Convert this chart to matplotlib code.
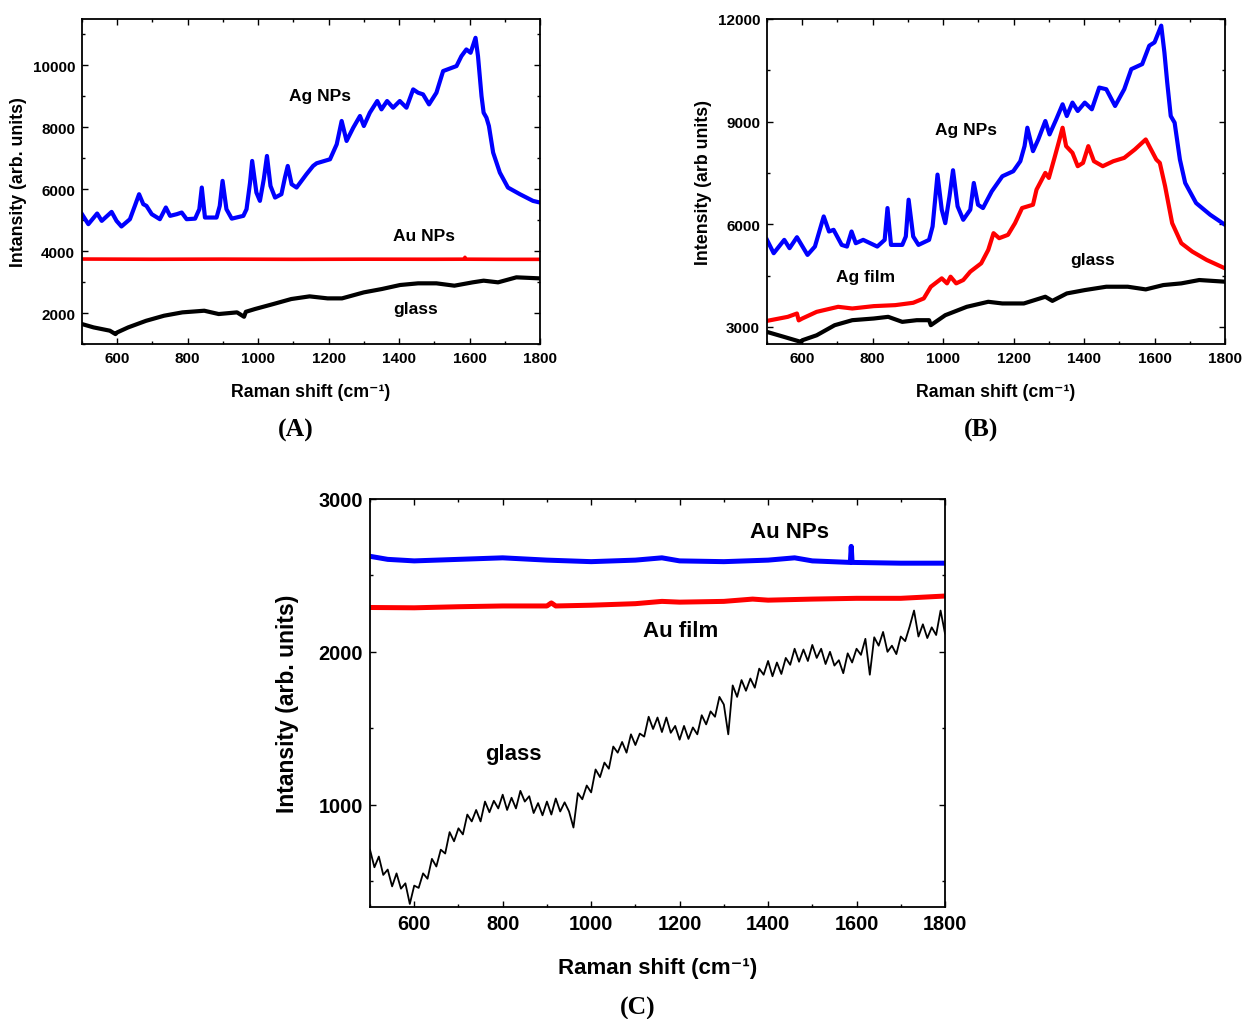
import numpy as np
import matplotlib
matplotlib.use("Agg")
import matplotlib.pyplot as plt
from matplotlib.ticker import MultipleLocator

plt.rcParams['font.family'] = ['Liberation Sans', 'DejaVu Sans']
plt.rcParams['font.weight'] = 'bold'
plt.rcParams['axes.labelweight'] = 'bold'

# ---- panel A : Ag NPs, Au NPs, glass ----
a_agnp_x = [500, 518, 543, 556, 584, 598, 612, 636, 650, 662, 674, 683, 698, 721, 738, 750,
            769, 783, 797, 821, 833, 840, 849, 882, 891, 899, 910, 925, 958, 967, 977, 983,
            995, 1005, 1016, 1025, 1035, 1048, 1066, 1076, 1084, 1095, 1109, 1137, 1156, 1166,
            1204, 1223, 1237, 1251, 1270, 1289, 1300, 1317, 1338, 1350, 1366, 1383, 1402, 1421,
            1440, 1454, 1468, 1485, 1506, 1525, 1563, 1577, 1591, 1603, 1617, 1624, 1634, 1640,
            1648, 1655, 1667, 1686, 1709, 1743, 1780, 1800]
a_agnp_y = [5194, 4871, 5216, 4978, 5268, 4978, 4797, 5032, 5462, 5839, 5516, 5462, 5194, 5032,
            5410, 5140, 5194, 5248, 5032, 5050, 5355, 6055, 5086, 5086, 5462, 6270, 5355, 5050,
            5140, 5355, 6216, 6914, 5893, 5624, 6324, 7075, 6108, 5731, 5839, 6377, 6753, 6162,
            6055, 6484, 6753, 6839, 6968, 7452, 8206, 7560, 7990, 8366, 8043, 8473, 8850, 8581,
            8850, 8634, 8850, 8634, 9226, 9118, 9065, 8742, 9118, 9818, 9980, 10301, 10516,
            10409, 10893, 10301, 9010, 8473, 8312, 8043, 7184, 6538, 6055, 5839, 5624, 5570]

a_aunp_x = [500, 700, 900, 1100, 1300, 1500, 1585, 1587, 1589, 1700, 1800]
a_aunp_y = [3745, 3738, 3742, 3736, 3740, 3738, 3740, 3800, 3740, 3735, 3735]

a_glass_x = [500, 533, 579, 595, 600, 631, 682, 733, 785, 847, 888, 940, 960, 965, 991, 1043,
             1094, 1146, 1197, 1238, 1300, 1351, 1403, 1454, 1506, 1557, 1609, 1640, 1681,
             1733, 1800]
a_glass_y = [1644, 1536, 1430, 1320, 1375, 1536, 1750, 1914, 2022, 2075, 1968, 2022, 1880,
             2040, 2130, 2291, 2453, 2539, 2474, 2474, 2668, 2776, 2906, 2960, 2960, 2884,
             2992, 3046, 2992, 3154, 3120]

# ---- panel B : Ag NPs, Ag film, glass ----
b_agnp_x = [500, 519, 549, 564, 585, 615, 636, 661, 676, 689, 712, 727, 740, 752, 773, 793,
            813, 834, 842, 852, 884, 894, 902, 915, 930, 960, 970, 984, 996, 1006, 1018, 1028,
            1041, 1057, 1077, 1087, 1099, 1113, 1138, 1168, 1199, 1219, 1231, 1239, 1255, 1270,
            1290, 1302, 1321, 1339, 1351, 1367, 1382, 1402, 1422, 1443, 1463, 1488, 1514, 1534,
            1565, 1585, 1600, 1619, 1628, 1636, 1646, 1657, 1672, 1687, 1718, 1758, 1800]
b_agnp_y = [5544, 5153, 5544, 5300, 5622, 5104, 5348, 6229, 5789, 5837, 5397, 5348, 5789, 5446,
            5544, 5446, 5348, 5544, 6474, 5397, 5397, 5642, 6718, 5642, 5397, 5544, 5935, 7452,
            6425, 6033, 6816, 7579, 6523, 6131, 6425, 7207, 6571, 6474, 6963, 7403, 7550, 7843,
            8284, 8822, 8137, 8479, 9018, 8626, 9067, 9507, 9164, 9556, 9311, 9556, 9360, 9996,
            9947, 9458, 9947, 10534, 10681, 11219, 11317, 11806, 11023, 10143, 9164, 8969, 7892,
            7207, 6620, 6278, 5984]

b_agfilm_x = [500, 559, 585, 590, 600, 641, 702, 742, 803, 864, 915, 945, 965, 996, 1011, 1021,
              1037, 1057, 1077, 1108, 1128, 1143, 1159, 1184, 1204, 1224, 1255, 1265, 1290, 1300,
              1316, 1329, 1339, 1349, 1367, 1382, 1397, 1412, 1428, 1453, 1483, 1514, 1544, 1575,
              1585, 1605, 1615, 1630, 1650, 1676, 1707, 1748, 1800]
b_agfilm_y = [3176, 3294, 3391, 3190, 3245, 3440, 3587, 3538, 3607, 3636, 3705, 3832, 4174, 4419,
              4272, 4468, 4272, 4370, 4614, 4859, 5250, 5740, 5593, 5691, 6033, 6474, 6571, 7012,
              7501, 7354, 7941, 8430, 8822, 8284, 8088, 7697, 7794, 8284, 7843, 7697, 7843, 7941,
              8186, 8479, 8284, 7892, 7794, 7110, 6033, 5446, 5202, 4957, 4712]

b_glass_x = [500, 549, 597, 600, 641, 692, 742, 803, 844, 884, 925, 960, 965, 1006, 1067, 1128,
             1168, 1229, 1290, 1310, 1351, 1402, 1463, 1524, 1575, 1625, 1676, 1727, 1800]
b_glass_y = [2853, 2706, 2560, 2609, 2755, 3049, 3196, 3245, 3294, 3147, 3196, 3196, 3050, 3342,
             3587, 3734, 3685, 3685, 3881, 3760, 3978, 4076, 4174, 4174, 4096, 4223, 4272, 4370,
             4321]

# ---- panel C : Au NPs, Au film, glass ----
c_aunp_x = [500, 540, 600, 700, 800, 900, 1000, 1100, 1160, 1200, 1300, 1400, 1460, 1500, 1586,
            1588, 1590, 1700, 1800]
c_aunp_y = [2625, 2605, 2595, 2605, 2615, 2600, 2590, 2600, 2615, 2595, 2590, 2600, 2615, 2595,
            2585, 2690, 2585, 2580, 2580]

c_aufilm_x = [500, 600, 700, 800, 900, 910, 920, 1000, 1100, 1160, 1200, 1300, 1365, 1400, 1500,
              1600, 1700, 1800]
c_aufilm_y = [2290, 2288, 2295, 2300, 2300, 2320, 2300, 2305, 2315, 2330, 2325, 2330, 2345, 2338,
              2345, 2350, 2350, 2365]

c_glass_x = np.arange(500, 1801, 10)
c_glass_y = [705, 590, 660, 540, 575, 465, 550, 450, 485, 350, 470, 455, 550, 515, 645, 595,
             705, 680, 820, 760, 845, 805, 935, 890, 965, 890, 1020, 950, 1025, 975, 1065, 965,
             1045, 975, 1090, 1020, 1055, 945, 1010, 930, 1020, 935, 1040, 955, 1015, 955, 850,
             1075, 1035, 1125, 1080, 1230, 1180, 1275, 1235, 1380, 1340, 1410, 1340, 1460, 1390,
             1465, 1445, 1575, 1495, 1570, 1475, 1570, 1470, 1515, 1425, 1515, 1430, 1505, 1460,
             1585, 1525, 1610, 1575, 1705, 1655, 1460, 1780, 1705, 1815, 1745, 1825, 1765, 1890,
             1850, 1940, 1840, 1930, 1855, 1960, 1915, 2020, 1935, 2015, 1940, 2045, 1960, 2020,
             1920, 2000, 1910, 1945, 1860, 1990, 1930, 2020, 1980, 2085, 1850, 2095, 2040, 2130,
             2000, 2040, 1985, 2100, 2070, 2165, 2270, 2100, 2180, 2090, 2160, 2110, 2270, 2120]

W, H = 1242, 1020
fig = plt.figure(figsize=(W / 100, H / 100), dpi=100)

xlab = 'Raman shift (cm\u207b\u00b9)'


def box(l, t, r, b):
    return [l / W, 1 - b / H, (r - l) / W, (b - t) / H]


def style(ax, ymaj, ymin, fs):
    ax.set_xlim(500, 1800)
    ax.xaxis.set_major_locator(MultipleLocator(200))
    ax.xaxis.set_minor_locator(MultipleLocator(100))
    ax.yaxis.set_major_locator(MultipleLocator(ymaj))
    ax.yaxis.set_minor_locator(MultipleLocator(ymin))
    ax.tick_params(which='both', direction='in', top=True, right=True, width=1.0)
    ax.tick_params(which='major', length=4, labelsize=fs, pad=5)
    ax.tick_params(which='minor', length=2.5)
    for s in ax.spines.values():
        s.set_linewidth(1.3)
    for lab in ax.get_xticklabels() + ax.get_yticklabels():
        lab.set_fontweight('bold')


# panel A
axA = fig.add_axes(box(82, 20, 540, 345))
axA.plot(a_agnp_x, a_agnp_y, color='blue', lw=3.0, solid_joinstyle='round')
axA.plot(a_aunp_x, a_aunp_y, color='red', lw=2.6)
axA.plot(a_glass_x, a_glass_y, color='black', lw=3.0, solid_joinstyle='round')
axA.set_ylim(1000, 11500)
style(axA, 2000, 1000, 11)
axA.set_xlabel(xlab, fontsize=12.8, labelpad=13)
axA.set_ylabel('Intansity (arb. units)', fontsize=12.8, labelpad=4)
axA.text(1175, 9030, 'Ag NPs', fontsize=12.5, ha='center', va='center')
axA.text(1471, 4516, 'Au NPs', fontsize=12.5, ha='center', va='center')
axA.text(1448, 2160, 'glass', fontsize=12.5, ha='center', va='center')
fig.text(296 / W, 1 - 430 / H, '(A)', fontsize=18.5, ha='center', va='center',
         family='Liberation Serif', weight='bold')

# panel B
axB = fig.add_axes(box(767, 20, 1225, 345))
axB.plot(b_agnp_x, b_agnp_y, color='blue', lw=3.0, solid_joinstyle='round')
axB.plot(b_agfilm_x, b_agfilm_y, color='red', lw=3.0, solid_joinstyle='round')
axB.plot(b_glass_x, b_glass_y, color='black', lw=3.0, solid_joinstyle='round')
axB.set_ylim(2500, 12000)
style(axB, 3000, 1500, 11)
axB.set_xlabel(xlab, fontsize=12.8, labelpad=13)
axB.set_ylabel('Intensity (arb units)', fontsize=12.8, labelpad=4)
axB.text(1065, 8777, 'Ag NPs', fontsize=12.5, ha='center', va='center')
axB.text(781, 4466, 'Ag film', fontsize=12.5, ha='center', va='center')
axB.text(1425, 4965, 'glass', fontsize=12.5, ha='center', va='center')
fig.text(981 / W, 1 - 430 / H, '(B)', fontsize=18.5, ha='center', va='center',
         family='Liberation Serif', weight='bold')

# panel C
axC = fig.add_axes(box(370, 500, 945, 908))
axC.plot(c_aunp_x, c_aunp_y, color='blue', lw=3.6)
axC.plot(c_aufilm_x, c_aufilm_y, color='red', lw=3.6)
axC.plot(c_glass_x, c_glass_y, color='black', lw=1.3)
axC.set_ylim(330, 3000)
style(axC, 1000, 500, 14.3)
axC.set_xlabel(xlab, fontsize=16, labelpad=17)
axC.set_ylabel('Intansity (arb. units)', fontsize=16.5, labelpad=14)
axC.text(1449, 2790, 'Au NPs', fontsize=16, ha='center', va='center')
axC.text(1202, 2141, 'Au film', fontsize=16, ha='center', va='center')
axC.text(824, 1334, 'glass', fontsize=16, ha='center', va='center')
fig.text(638 / W, 1 - 1008 / H, '(C)', fontsize=18.5, ha='center', va='center',
         family='Liberation Serif', weight='bold')

fig.savefig('out.png', dpi=100)
